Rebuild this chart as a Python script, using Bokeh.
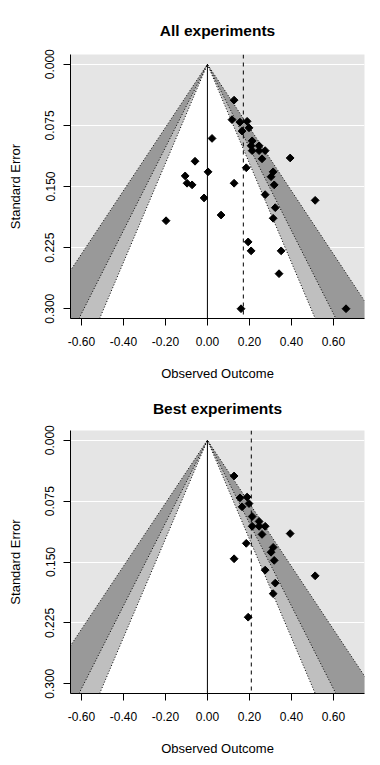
from math import pi
from bokeh.plotting import figure
from bokeh.models import Range1d, FixedTicker, ColumnDataSource
from bokeh.layouts import column
from bokeh.embed import file_html
from bokeh.resources import INLINE

# ---- data ----
all_effect = [0.127, 0.117, 0.155, 0.189, 0.165, 0.198, 0.022, 0.213, 0.208, 0.246,
              0.213, 0.246, 0.275, 0.260, 0.394, -0.059, 0.185, 0.003, 0.313, 0.303,
              -0.106, -0.097, -0.073, 0.127, 0.318, 0.275, -0.016, 0.513, 0.323, 0.065,
              0.313, -0.197, 0.194, 0.208, 0.351, 0.341, 0.160, 0.660]
all_se = [0.044, 0.068, 0.071, 0.070, 0.082, 0.078, 0.091, 0.094, 0.100, 0.100,
          0.106, 0.106, 0.106, 0.116, 0.115, 0.119, 0.127, 0.132, 0.132, 0.138,
          0.137, 0.146, 0.148, 0.146, 0.148, 0.160, 0.164, 0.167, 0.176, 0.185,
          0.189, 0.192, 0.218, 0.229, 0.229, 0.257, 0.300, 0.300]
all_estimate = 0.171

best_effect = [0.127, 0.155, 0.189, 0.165, 0.198, 0.213, 0.246, 0.213, 0.246, 0.275,
               0.260, 0.394, 0.185, 0.313, 0.303, 0.127, 0.318, 0.275, 0.513, 0.323,
               0.313, 0.194]
best_se = [0.044, 0.071, 0.070, 0.082, 0.078, 0.094, 0.100, 0.106, 0.106, 0.106,
           0.116, 0.115, 0.127, 0.132, 0.138, 0.146, 0.148, 0.160, 0.167, 0.176,
           0.189, 0.218]
best_estimate = 0.209

titles = ["All experiments", "Best experiments"]
x_ticks = [-0.6, -0.4, -0.2, 0.0, 0.2, 0.4, 0.6]
x_tick_labels = ["-0.60", "-0.40", "-0.20", "0.00", "0.20", "0.40", "0.60"]
y_ticks = [0.0, 0.075, 0.15, 0.225, 0.3]
y_tick_labels = ["0.000", "0.075", "0.150", "0.225", "0.300"]
contour_z = [2.576, 1.960, 1.645]          # 99%, 95%, 90% contours
contour_fill = ["#999999", "#BFBFBF", "#FFFFFF"]

X_LIM = (-0.652, 0.748)
Y_LIM = (-0.012, 0.312)
FONT = "Liberation Sans"


def make_panel(title, effect, se, estimate, height, top_border, bottom_border,
               title_standoff):
    p = figure(width=372, height=height,
               x_range=Range1d(*X_LIM), y_range=Range1d(Y_LIM[1], Y_LIM[0]),
               output_backend="svg", toolbar_location=None,
               min_border_left=70, min_border_right=8, min_border_top=top_border,
               min_border_bottom=bottom_border)
    p.outline_line_color = None
    p.background_fill_color = "#E5E5E5"
    p.border_fill_color = "white"

    p.title.text = title
    p.title.align = "center"
    p.title.text_font = FONT
    p.title.text_font_size = "15.5px"
    p.title.text_font_style = "bold"
    p.title.text_color = "black"
    p.title.standoff = title_standoff

    ybot = Y_LIM[1]
    for z, col in zip(contour_z, contour_fill):
        p.patch(x=[0, -z * ybot, z * ybot], y=[0, ybot, ybot],
                fill_color=col, line_color=None)
    for z in contour_z:
        p.line(x=[-z * ybot, 0, z * ybot], y=[ybot, 0, ybot],
               line_color="black", line_width=1, line_dash="1 2")

    p.line(x=[0, 0], y=[0, ybot], line_color="black", line_width=1)
    p.line(x=[estimate, estimate], y=[Y_LIM[0], ybot], line_color="black",
           line_width=1, line_dash="4 4")

    src = ColumnDataSource(dict(x=effect, y=se))
    p.scatter("x", "y", source=src, marker="square", angle=pi / 4, size=5.5,
              fill_color="black", line_color="black")

    # axes
    p.xaxis.ticker = FixedTicker(ticks=x_ticks)
    p.xaxis.major_label_overrides = dict(zip(x_ticks, x_tick_labels))
    p.yaxis.ticker = FixedTicker(ticks=y_ticks)
    p.yaxis.major_label_overrides = dict(zip(y_ticks, y_tick_labels))
    p.yaxis.major_label_orientation = "parallel"
    p.xaxis.axis_label = "Observed Outcome"
    p.yaxis.axis_label = "Standard Error"
    for ax in (p.xaxis, p.yaxis):
        ax.axis_line_color = "black"
        ax.major_tick_line_color = "black"
        ax.major_tick_out = 7
        ax.major_tick_in = 0
        ax.minor_tick_line_color = None
        ax.major_label_text_font = FONT
        ax.major_label_text_font_size = "12px"
        ax.major_label_text_color = "black"
        ax.axis_label_text_font = FONT
        ax.axis_label_text_font_size = "13px"
        ax.axis_label_text_font_style = "normal"
        ax.axis_label_text_color = "black"
    p.xaxis.major_label_standoff = 11
    p.xaxis.axis_label_standoff = 17
    p.yaxis.major_label_standoff = 9
    p.yaxis.axis_label_standoff = 20

    p.xgrid.visible = False
    p.ygrid.grid_line_color = "white"
    p.ygrid.grid_line_width = 1
    return p


# top panel: frame 54..318 ; bottom panel: frame 429..693 (page pixels)
p1 = make_panel(titles[0], all_effect, all_se, all_estimate, 383, 54, 65, 31)
p2 = make_panel(titles[1], best_effect, best_se, best_estimate, 382, 46, 72, 28)

layout = column(p1, p2, spacing=0)
open("out.html", "w").write(file_html(layout, INLINE))
